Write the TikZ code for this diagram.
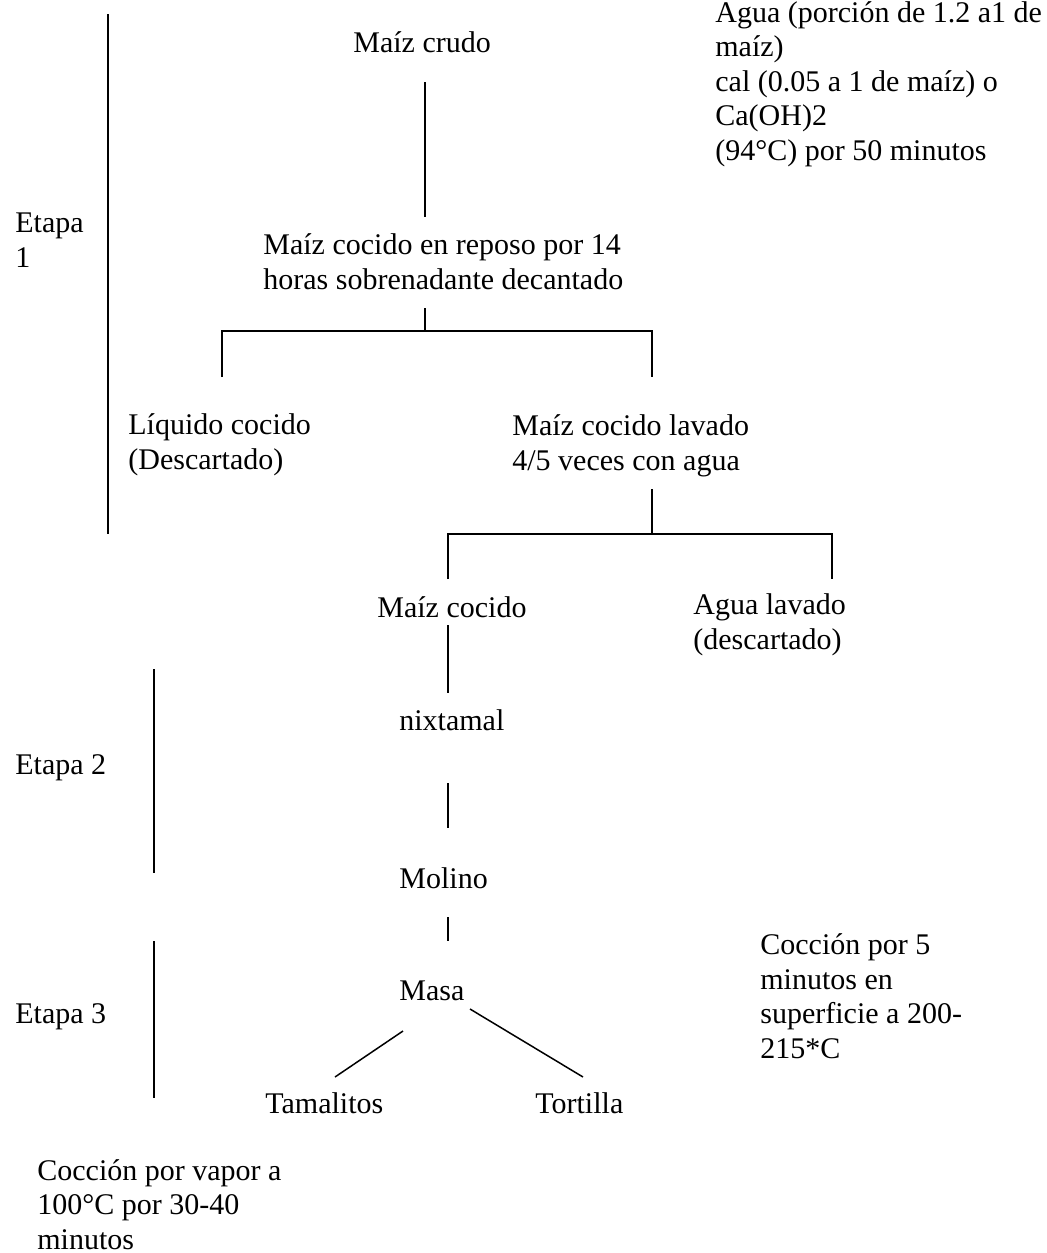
\documentclass[tikz,border=0pt]{standalone}
\usepackage{fontspec}
\setmainfont{Liberation Serif}

\begin{document}
\begin{tikzpicture}[
    x=0.5pt, y=-0.5pt,
    font=\fontsize{15}{17.25}\selectfont,
    txt/.style={anchor=base west, inner sep=0pt, align=left},
    conn/.style={line width=0.75pt}
]
    \useasboundingbox (0,0) rectangle (1046,1253);

    % Coordinates
    \coordinate (crudo-out)   at (425, 82);
    \coordinate (reposo-in)   at (425, 217);
    \coordinate (reposo-out)  at (425, 308);
    \coordinate (split1)      at (425, 331);
    \coordinate (liquido-in)  at (222, 377);
    \coordinate (lavado-in)   at (652, 377);
    \coordinate (lavado-out)  at (652, 489);
    \coordinate (split2)      at (652, 534);
    \coordinate (cocido-in)   at (448, 579);
    \coordinate (aguaLav-in)  at (832, 579);
    \coordinate (cocido-out)  at (448, 625);
    \coordinate (nixtamal-in) at (448, 693);
    \coordinate (nixtamal-out) at (448, 783);
    \coordinate (molino-in)   at (448, 828);
    \coordinate (molino-out)  at (448, 917);
    \coordinate (masa-in)     at (448, 941);
    \coordinate (masa-left)   at (403, 1031);
    \coordinate (masa-right)  at (470, 1009);
    \coordinate (tamal-in)    at (335, 1077);
    \coordinate (tortilla-in) at (583, 1077);

    % Stage bars
    \coordinate (etapa1-top) at (108, 14);
    \coordinate (etapa1-bot) at (108, 534);
    \coordinate (etapa2-top) at (154, 669);
    \coordinate (etapa2-bot) at (154, 873);
    \coordinate (etapa3-top) at (154, 941);
    \coordinate (etapa3-bot) at (154, 1098);

    % Steps (multi-line texts sit on their last baseline)
    \node[txt] (crudo)    at (353, 52)   {Maíz crudo};
    \node[txt] (reposo)   at (263, 289)  {Maíz cocido en reposo por 14\\horas sobrenadante decantado};
    \node[txt] (liquido)  at (128, 469)  {Líquido cocido\\(Descartado)};
    \node[txt] (lavado)   at (512, 470)  {Maíz cocido lavado\\4/5 veces con agua};
    \node[txt] (cocido)   at (377, 617)  {Maíz cocido};
    \node[txt] (aguaLav)  at (693, 649)  {Agua lavado\\(descartado)};
    \node[txt] (nixtamal) at (399, 730)  {nixtamal};
    \node[txt] (molino)   at (399, 888)  {Molino};
    \node[txt] (masa)     at (399, 1000) {Masa};
    \node[txt] (tamal)    at (265, 1113) {Tamalitos};
    \node[txt] (tortilla) at (535, 1113) {Tortilla};

    % Notes
    \node[txt] (insumos)  at (715, 160)  {Agua (porción de 1.2 a1 de\\maíz)\\cal (0.05 a 1 de maíz) o\\Ca(OH)2\\(94°C) por 50 minutos};
    \node[txt] (plancha)  at (760, 1058) {Cocción por 5\\minutos en\\superficie a 200-\\215*C};
    \node[txt] (vapor)    at (37, 1249)  {Cocción por vapor a\\100°C por 30-40\\minutos};

    % Stage labels
    \node[txt] (etapa1) at (15, 267)  {Etapa\\1};
    \node[txt] (etapa2) at (15, 774)  {Etapa 2};
    \node[txt] (etapa3) at (15, 1023) {Etapa 3};

    % Stage bars
    \draw[conn] (etapa1-top) -- (etapa1-bot);
    \draw[conn] (etapa2-top) -- (etapa2-bot);
    \draw[conn] (etapa3-top) -- (etapa3-bot);

    % Connectors
    \draw[conn] (crudo-out) -- (reposo-in);
    \draw[conn] (reposo-out) -- (split1);
    \draw[conn] (liquido-in) |- (split1) -| (lavado-in);
    \draw[conn] (lavado-out) -- (split2);
    \draw[conn] (cocido-in) |- (split2) -| (aguaLav-in);
    \draw[conn] (cocido-out) -- (nixtamal-in);
    \draw[conn] (nixtamal-out) -- (molino-in);
    \draw[conn] (molino-out) -- (masa-in);
    \draw[conn] (masa-left) -- (tamal-in);
    \draw[conn] (masa-right) -- (tortilla-in);

\end{tikzpicture}
\end{document}
